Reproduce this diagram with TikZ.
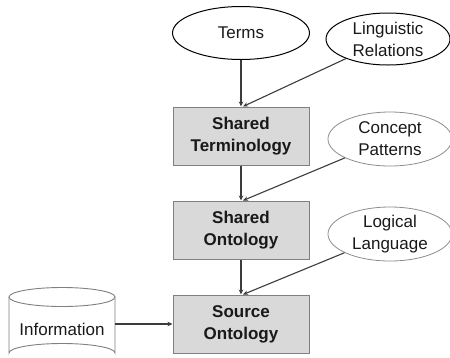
\documentclass[tikz,border=0pt]{standalone}
\usepackage{fontspec}
\setmainfont{Liberation Sans}
\usetikzlibrary{arrows.meta,shapes.geometric}
\definecolor{boxfill}{RGB}{217,217,217}
\definecolor{boxline}{RGB}{128,128,128}
\definecolor{lightline}{RGB}{140,140,140}
\definecolor{arrowc}{RGB}{60,60,60}
\definecolor{txt}{RGB}{25,25,25}
\tikzset{
  procbox/.style={draw=boxline, fill=boxfill, line width=1pt, minimum width=136pt, minimum height=58pt,
    font=\fontsize{17}{22}\selectfont\bfseries, text=txt, align=center, inner sep=0pt},
  darkell/.style={ellipse, draw=black, line width=1pt, minimum width=137pt, minimum height=53pt,
    font=\fontsize{17}{22}\selectfont, text=txt, align=center, inner sep=0pt},
  lightell/.style={ellipse, draw=lightline, line width=0.8pt, minimum width=124pt, minimum height=54pt,
    font=\fontsize{17}{22}\selectfont, text=txt, align=center, inner sep=0pt},
  conn/.style={draw=arrowc, line width=1.1pt, -{Stealth[length=5pt,width=4.5pt]}}
}
\begin{document}
\begin{tikzpicture}[x=1pt,y=-1pt]
\useasboundingbox (0,0) rectangle (450,357);
\clip (0,0) rectangle (450,357);
\node[darkell] (terms) at (241,33) {Terms};
\node[darkell, minimum width=124pt, minimum height=52pt] (ling) at (388,39) {Linguistic\\Relations};
\node[procbox] (st) at (241,136) {Shared\\Terminology};
\node[lightell] (cp) at (390,139) {Concept\\Patterns};
\node[procbox] (so) at (241,230) {Shared\\Ontology};
\node[lightell] (ll) at (390,234) {Logical\\Language};
\node[procbox] (src) at (241,324) {Source\\Ontology};
% cylinder
\draw[draw=boxline, line width=0.9pt, fill=white] (9,297) -- (9,353) arc[start angle=180, end angle=360, x radius=53, y radius=9.5] -- (115,297);
\draw[draw=boxline, line width=0.9pt, fill=white] (62,297) ellipse[x radius=53, y radius=9.5];
\node[font=\fontsize{17}{22}\selectfont, text=txt, inner sep=0pt] (info) at (62,329) {Information};
\coordinate (infoR) at (115,324);
\draw[conn] (terms) -- (st.north);
\draw[conn] (ling) -- ([xshift=2pt]st.north);
\draw[conn] (st) -- (so);
\draw[conn] (cp) -- ([xshift=2pt]so.north);
\draw[conn] (so) -- (src);
\draw[conn] (ll) -- ([xshift=2pt]src.north);
\draw[conn] (infoR) -- (src.west);
\end{tikzpicture}
\end{document}
